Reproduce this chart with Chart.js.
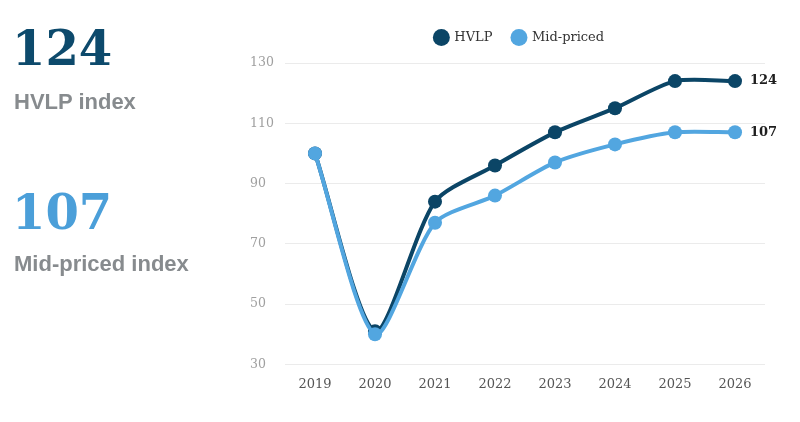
<!DOCTYPE html>
<html>
<head>
<meta charset="utf-8">
<script src="https://cdn.jsdelivr.net/npm/chart.js@4.4.1/dist/chart.umd.min.js"></script>
<style>
html, body { margin: 0; padding: 0; background: #fff; }
#page { position: relative; width: 800px; height: 422px; overflow: hidden; }
#chart { position: absolute; left: 0; top: 0; }
.big { position: absolute; left: 12px; font-family: "DejaVu Serif", serif; font-weight: bold; font-size: 48px; line-height: 1; }
.sub { position: absolute; left: 14px; font-family: "Liberation Sans", Arial, sans-serif; font-weight: bold; font-size: 22px; line-height: 1; color: #878b8e; }
</style>
</head>
<body>
<div id="page">
    <canvas id="chart" width="800" height="422"></canvas>
    <div class="big" style="top:24px;color:#0d4a6c;">124</div>
    <div class="sub" style="top:91px;">HVLP index</div>
    <div class="big" style="top:188px;color:#4b9fd9;">107</div>
    <div class="sub" style="top:253px;">Mid-priced index</div>
</div>
<script>
var years = ['2019', '2020', '2021', '2022', '2023', '2024', '2025', '2026'];
var hvlp = [100, 41, 84, 96, 107, 115, 124, 124];
var midPriced = [100, 40, 77, 86, 97, 103, 107, 107];
var yTicks = [30, 50, 70, 90, 110, 130];

var darkBlue = '#0b4566';
var lightBlue = '#52a6e0';
var serif = 'DejaVu Serif';

// value label next to the last point of each line
var endLabels = {
    id: 'endLabels',
    afterDatasetsDraw: function (chart) {
        var ctx = chart.ctx;
        ctx.save();
        ctx.font = 'bold 13px "' + serif + '"';
        ctx.fillStyle = '#1e1e1e';
        ctx.textBaseline = 'middle';
        chart.data.datasets.forEach(function (ds, i) {
            var pts = chart.getDatasetMeta(i).data;
            var last = pts[pts.length - 1];
            ctx.fillText(ds.data[ds.data.length - 1], last.x + 15, last.y);
        });
        ctx.restore();
    }
};

// legend sits a bit right of centre and leaves more room under it
var legendTweak = {
    id: 'legendTweak',
    afterInit: function (chart) {
        var legend = chart.legend;
        var fit = legend.fit;
        legend.fit = function () {
            fit.call(this);
            this.height += 9;
        };
    },
    afterLayout: function (chart) {
        chart.legend.left += 12;
        chart.legend.right += 12;
    }
};

var chart = new Chart(document.getElementById('chart'), {
    type: 'line',
    data: {
        labels: years,
        datasets: [{
            label: 'HVLP',
            data: hvlp,
            borderColor: darkBlue,
            backgroundColor: darkBlue,
            pointBackgroundColor: darkBlue,
            pointBorderColor: darkBlue,
            order: 1
        },
        {
            label: 'Mid-priced',
            data: midPriced,
            borderColor: lightBlue,
            backgroundColor: lightBlue,
            pointBackgroundColor: lightBlue,
            pointBorderColor: lightBlue,
            order: 0
        }]
    },
    options: {
        responsive: false,
        animation: false,
        layout: {
            padding: { left: 250, right: 35, top: 11, bottom: 18 }
        },
        elements: {
            line: { borderWidth: 4, tension: 0.25 },
            point: { radius: 7, borderWidth: 0, hoverRadius: 7 }
        },
        plugins: {
            legend: {
                position: 'top',
                labels: {
                    usePointStyle: true,
                    boxHeight: 12,
                    padding: 20,
                    color: '#333',
                    font: { family: serif, size: 13 },
                    sort: function (a, b) { return a.datasetIndex - b.datasetIndex; }
                }
            },
            tooltip: { enabled: false }
        },
        scales: {
            x: {
                offset: true,
                grid: { display: false, drawTicks: false },
                border: { display: false },
                ticks: { color: '#555', padding: 12, font: { family: serif, size: 13 } }
            },
            y: {
                min: 30,
                max: 130,
                afterBuildTicks: function (scale) {
                    scale.ticks = yTicks.map(function (v) { return { value: v }; });
                },
                afterFit: function (scale) { scale.width = 35; },
                grid: { color: '#ebebeb', drawTicks: false },
                border: { display: false },
                ticks: { color: '#a0a0a0', crossAlign: 'far', font: { family: serif, size: 12.5 } }
            }
        }
    },
    plugins: [endLabels, legendTweak]
});
</script>
</body>
</html>
